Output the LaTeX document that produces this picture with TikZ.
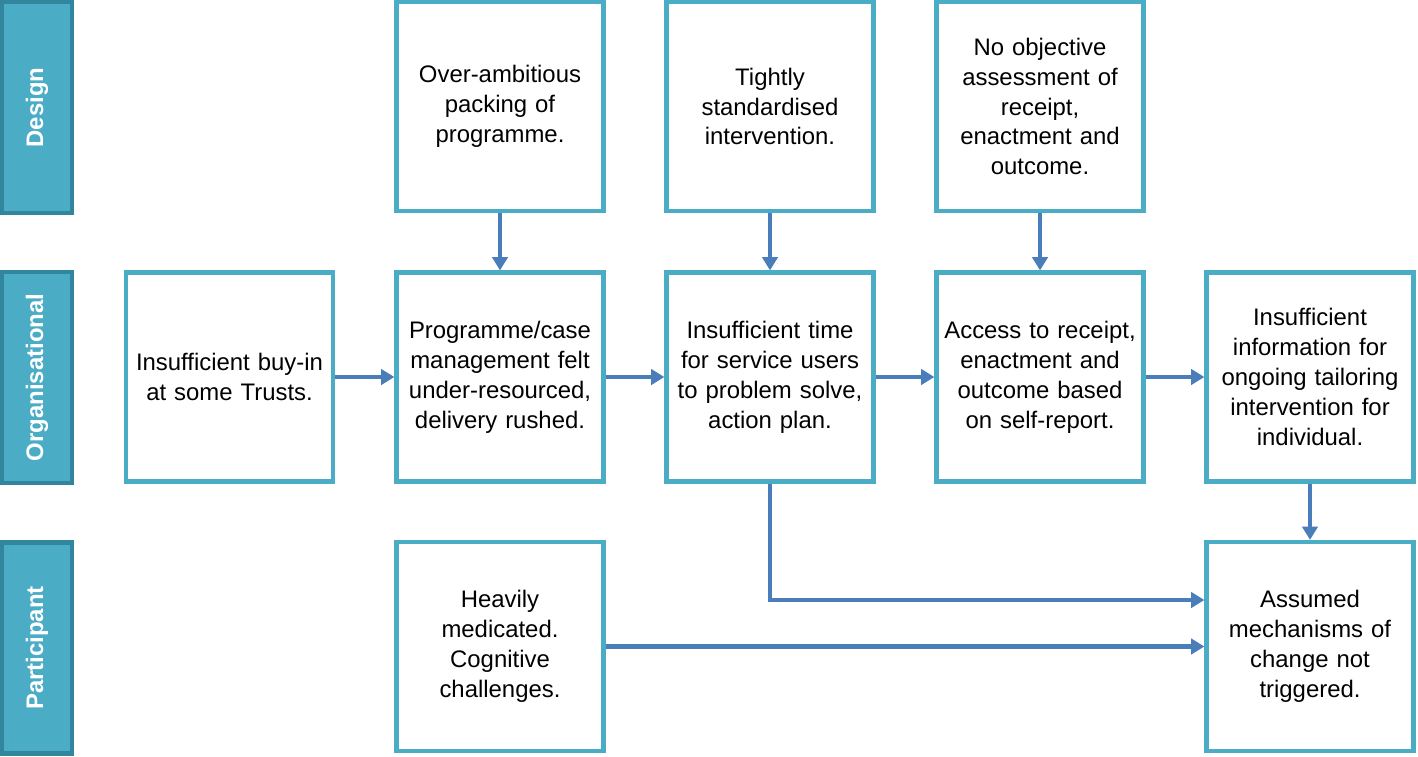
\documentclass[tikz,border=0pt]{standalone}
\usepackage{fontspec}
\setmainfont{Liberation Sans}
\usetikzlibrary{arrows.meta,calc}
\definecolor{boxblue}{RGB}{75,172,198}
\definecolor{bardark}{RGB}{49,133,156}
\definecolor{arrowblue}{RGB}{74,126,187}

\begin{document}
\begin{tikzpicture}[x=0.025cm,y=-0.025cm,
		>={Triangle[length=0.33cm,width=0.38cm]},
		cause/.style={draw=boxblue,line width=0.11cm,minimum width=5.17cm,minimum height=5.22cm,
			text width=5.05cm,align=center,inner sep=0pt,font=\fontsize{17}{21.3}\selectfont},
		level/.style={draw=bardark,fill=boxblue,line width=0.11cm,rotate=90,minimum width=5.27cm,
			minimum height=1.74cm,text=white,font=\fontsize{17}{20}\selectfont\bfseries},
		link/.style={->,draw=arrowblue,line width=0.12cm}]
	\useasboundingbox (0,0) rectangle (1418,756);
	% levels
	\node[level] (design) at (37,107.5) {Design};
	\node[level] (organisational) at (37,377.5) {Organisational};
	\node[level] (participant) at (37,648) {Participant};
	% design row
	\node[cause] (packing) at (500,106.5) {Over-ambitious\\packing of\\programme.};
	\node[cause] (standard) at (770,106.5) {Tightly\\standardised\\intervention.};
	\node[cause] (objective) at (1040,106.5) {No objective\\assessment of\\receipt,\\enactment and\\outcome.};
	% organisational row
	\node[cause] (buyin) at (229.5,377) {Insufficient buy-in\\at some Trusts.};
	\node[cause] (management) at (500,377) {Programme/case\\management felt\\under-resourced,\\delivery rushed.};
	\node[cause] (time) at (770,377) {Insufficient time\\for service users\\to problem solve,\\action plan.};
	\node[cause] (selfreport) at (1040,377) {Access to receipt,\\enactment and\\outcome based\\on self-report.};
	\node[cause] (information) at (1310,377) {Insufficient\\information for\\ongoing tailoring\\intervention for\\individual.};
	% participant row
	\node[cause] (medicated) at (500,646.5) {Heavily\\medicated.\\Cognitive\\challenges.};
	\node[cause] (assumed) at (1310,646.5) {Assumed\\mechanisms of\\change not\\triggered.};
	\coordinate (elbow) at ($(assumed.west)+(0,-46.5)$);
	% links
	\draw[link] (packing) -- (management);
	\draw[link] (standard) -- (time);
	\draw[link] (objective) -- (selfreport);
	\draw[link] (buyin) -- (management);
	\draw[link] (management) -- (time);
	\draw[link] (time) -- (selfreport);
	\draw[link] (selfreport) -- (information);
	\draw[link] (information) -- (assumed);
	\draw[link] (time.south) |- (elbow);
	\draw[link] (medicated) -- (assumed);
\end{tikzpicture}
\end{document}
